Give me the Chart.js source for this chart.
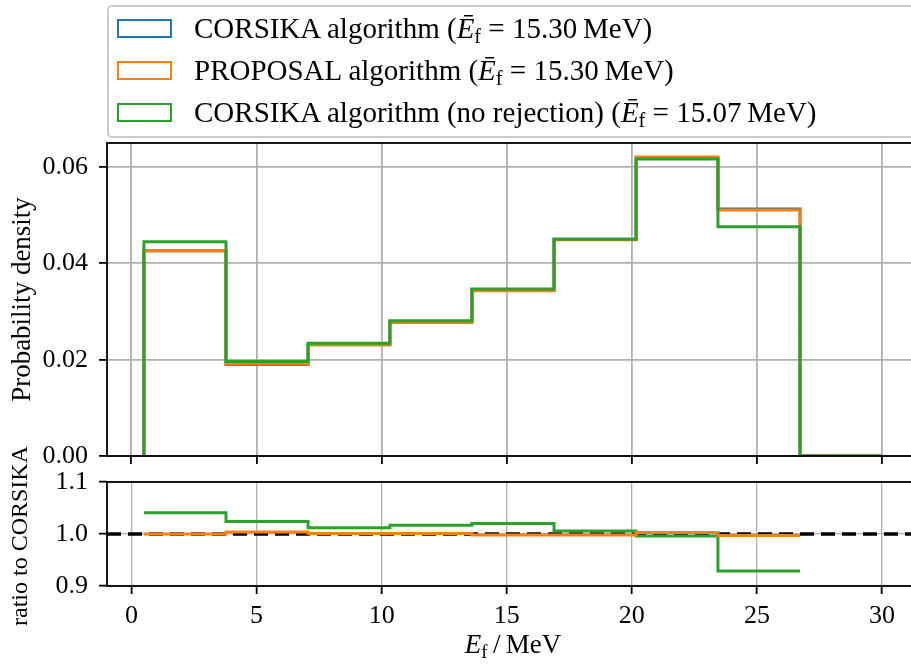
<!DOCTYPE html>
<html>
<head>
<meta charset="utf-8">
<script src="https://cdn.jsdelivr.net/npm/chart.js@4.4.0/dist/chart.umd.min.js"></script>
<style>
  body { margin: 0; width: 911px; height: 664px; overflow: hidden; background: #fff; position: relative; font-family: 'Liberation Serif', serif; color: #000; }
  canvas { position: absolute; left: 0; }
  #histCanvas { top: 0; }
  #ratioCanvas { top: 440px; }
  #legend { position: absolute; left: 107px; top: 5px; width: 830px; height: 129px; border: 2px solid #cccccc; border-radius: 5px; background: rgba(255,255,255,0.8); z-index: 2; }
  .row { position: absolute; left: 0; height: 29px; font-size: 29px; line-height: 29px; white-space: nowrap; }
  .patch { position: absolute; left: 8px; top: 5px; width: 55px; height: 19px; box-sizing: border-box; border: 2.5px solid; }
  .label { position: absolute; left: 85px; top: 0; }
  sub { font-size: 0.7em; vertical-align: -0.25em; line-height: 0; }
  #xlabel { position: absolute; top: 631px; left: 513px; transform: translateX(-50%); font-size: 27px; line-height: 27px; white-space: nowrap; }
  #ratioLabel { position: absolute; left: 19px; top: 536px; transform: translate(-50%, -50%) rotate(-90deg); font-size: 24px; line-height: 24px; white-space: nowrap; }
</style>
</head>
<body>
<canvas id="histCanvas" width="930" height="480"></canvas>
<canvas id="ratioCanvas" width="930" height="224"></canvas>
<div id="legend"></div>
<div id="ratioLabel">ratio to CORSIKA</div>
<div id="xlabel"><i>E</i><sub>f</sub>&thinsp;/&thinsp;MeV</div>
<script>
// bin edges of the histogram (MeV)
const edges = [0.5, 3.78, 7.06, 10.33, 13.61, 16.89, 20.17, 23.44, 26.72, 30.0];

// probability density per bin
const corsika     = [0.0426, 0.0190, 0.0231, 0.0278, 0.0344, 0.0450, 0.0619, 0.0513, 0];
const proposal    = [0.0426, 0.0191, 0.0231, 0.0278, 0.0343, 0.0449, 0.0621, 0.0511, 0];
const noRejection = [0.0445, 0.0196, 0.0234, 0.0281, 0.0347, 0.0450, 0.0617, 0.0476, 0];

// ratio to CORSIKA (last bin is empty, so no ratio there)
const ratioProposal    = [1.000, 1.004, 1.001, 1.001, 0.998, 0.998, 1.003, 0.997];
const ratioNoRejection = [1.041, 1.024, 1.012, 1.017, 1.020, 1.006, 0.996, 0.929];

const xTicks = [0, 5, 10, 15, 20, 25, 30];
const yTicksHist = [0, 0.02, 0.04, 0.06];
const yTicksRatio = [0.9, 1.0, 1.1];
const xRange = [-0.975, 31.475];
const yRangeHist = [0, 0.065];
const yRangeRatio = [0.9, 1.1];

const seriesNames = ['CORSIKA algorithm', 'PROPOSAL algorithm', 'CORSIKA algorithm (no rejection)'];
const meanEnergies = ['15.30', '15.30', '15.07'];
const colors = ['#1f77b4', '#ff7f0e', '#2ca02c'];

const FONT = 'Liberation Serif';

// legend
const legend = document.getElementById('legend');
legend.innerHTML = seriesNames.map((name, i) => `
  <div class="row" style="top:${7 + i * 42}px">
    <div class="patch" style="border-color:${colors[i]}"></div>
    <div class="label">${name} (<i>Ē</i><sub>f</sub> = ${meanEnergies[i]}&thinsp;MeV)</div>
  </div>`).join('');

function steps(vals, closed) {
    const pts = [];
    if (closed) pts.push({ x: edges[0], y: 0 });
    vals.forEach((v, i) => {
        pts.push({ x: edges[i], y: v });
        pts.push({ x: edges[i + 1], y: v });
    });
    if (closed) pts.push({ x: edges[vals.length], y: 0 });
    return pts;
}

const framePlugin = {
    id: 'frame',
    afterDatasetsDraw(chart) {
        const { ctx, chartArea: a } = chart;
        ctx.save();
        ctx.strokeStyle = '#000';
        ctx.lineWidth = 1.8;
        ctx.strokeRect(a.left, a.top, a.right - a.left, a.bottom - a.top);
        ctx.restore();
    }
};

function lineSet(data, color, order, extra) {
    return Object.assign({
        data, borderColor: color, borderWidth: 3, pointRadius: 0,
        fill: false, tension: 0, order, borderJoinStyle: 'miter', borderCapStyle: 'butt'
    }, extra || {});
}

function xScale(showLabels, height, gridWidth) {
    return {
        type: 'linear', min: xRange[0], max: xRange[1],
        afterBuildTicks: s => { s.ticks = xTicks.map(v => ({ value: v })); },
        afterFit: s => { s.height = height; s.paddingLeft = 0; s.paddingRight = 0; },
        grid: { color: '#b0b0b0', lineWidth: gridWidth, tickColor: '#000', tickWidth: 1.8, tickLength: 8 },
        border: { display: false },
        ticks: {
            display: showLabels, color: '#000', padding: 7, maxRotation: 0,
            font: { family: FONT, size: 26 },
            callback: v => String(v)
        }
    };
}

function yScale(range, tickVals, digits, title, gridWidth) {
    return {
        type: 'linear', min: range[0], max: range[1],
        afterBuildTicks: s => { s.ticks = tickVals.map(v => ({ value: v })); },
        afterFit: s => { s.width = 107; s.paddingTop = 0; s.paddingBottom = 0; },
        grid: { color: '#b0b0b0', lineWidth: gridWidth, tickColor: '#000', tickWidth: 1.8, tickLength: 8 },
        border: { display: false },
        ticks: {
            color: '#000', padding: 11,
            font: { family: FONT, size: 26 },
            callback: v => v.toFixed(digits)
        },
        title: {
            display: !!title, text: title, color: '#000',
            font: { family: FONT, size: 27 },
            padding: { top: 7, bottom: 0 }
        }
    };
}

const common = {
    responsive: false,
    animation: false,
    devicePixelRatio: 1,
    plugins: { legend: { display: false }, tooltip: { enabled: false } },
    events: []
};

new Chart(document.getElementById('histCanvas').getContext('2d'), {
    type: 'line',
    data: {
        datasets: [
            lineSet(steps(corsika, true), colors[0], 3),
            lineSet(steps(proposal, true), colors[1], 2),
            lineSet(steps(noRejection, true), colors[2], 1)
        ]
    },
    options: Object.assign({}, common, {
        layout: { padding: { top: 143, right: 11, left: 0, bottom: 0 } },
        scales: {
            x: xScale(false, 24, 1.8),
            y: yScale(yRangeHist, yTicksHist, 2, 'Probability density', 1.8)
        }
    }),
    plugins: [framePlugin]
});

new Chart(document.getElementById('ratioCanvas').getContext('2d'), {
    type: 'line',
    data: {
        datasets: [
            lineSet([{ x: xRange[0], y: 1 }, { x: xRange[1], y: 1 }], '#000', 3, { borderWidth: 3.5, borderDash: [14, 7] }),
            lineSet(steps(ratioNoRejection, false), colors[2], 2),
            lineSet(steps(ratioProposal, false), colors[1], 1)
        ]
    },
    options: Object.assign({}, common, {
        layout: { padding: { top: 42, right: 11, left: 0, bottom: 0 } },
        scales: {
            x: xScale(true, 78, 1.3),
            y: yScale(yRangeRatio, yTicksRatio, 1, '', 1.3)
        }
    }),
    plugins: [framePlugin]
});
</script>
</body>
</html>
